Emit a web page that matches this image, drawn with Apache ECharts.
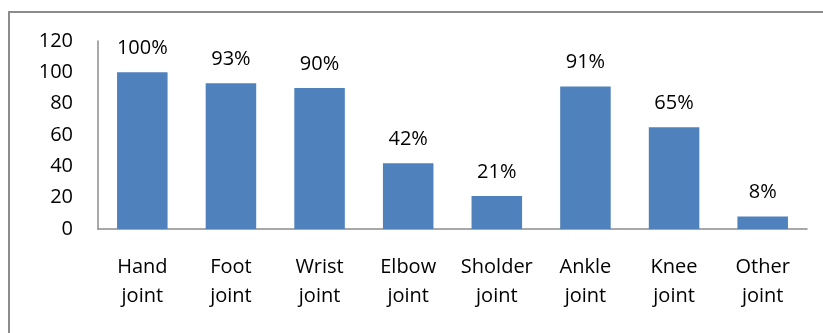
<!DOCTYPE html>
<html>
<head>
<meta charset="utf-8">
<script src="https://cdn.jsdelivr.net/npm/echarts@6/dist/echarts.min.js"></script>
<style>
html,body{margin:0;padding:0;background:#fff;}
#chart{width:823px;height:333px;}
</style>
</head>
<body>
<div id="chart"></div>
<script>
// Joint involvement (%)
const categories = ['Hand\njoint', 'Foot\njoint', 'Wrist\njoint', 'Elbow\njoint', 'Sholder\njoint', 'Ankle\njoint', 'Knee\njoint', 'Other\njoint'];
const values = [100, 93, 90, 42, 21, 91, 65, 8];
const yTicks = { min: 0, max: 120, interval: 20 };

const FONT = '"Open Sans", "Liberation Sans", Arial, sans-serif';
const chart = echarts.init(document.getElementById('chart'));
chart.setOption({
  animation: false,
  backgroundColor: '#fff',
  textStyle: { fontFamily: FONT },
  graphic: [{
    type: 'rect',
    shape: { x: 9, y: 12, width: 840, height: 340 },
    style: { fill: 'none', stroke: '#8c8c8c', lineWidth: 2 },
    silent: true
  }],
  grid: { left: 98, right: 16, top: 41, bottom: 104, containLabel: false },
  xAxis: {
    type: 'category',
    data: categories,
    axisLine: { lineStyle: { color: '#8c8c8c', width: 1.5 } },
    axisTick: { show: false },
    axisLabel: { color: '#000', fontSize: 20, fontFamily: FONT, lineHeight: 29, margin: 24, interval: 0 }
  },
  yAxis: {
    type: 'value',
    min: yTicks.min, max: yTicks.max, interval: yTicks.interval,
    axisLine: { show: true, lineStyle: { color: '#8c8c8c', width: 1.5 } },
    axisTick: { show: false },
    splitLine: { show: false },
    axisLabel: { color: '#000', fontSize: 20, fontFamily: FONT, margin: 25 }
  },
  series: [{
    type: 'bar',
    data: values,
    barWidth: '57%',
    itemStyle: { color: '#4F81BD' },
    label: {
      show: true, position: 'top', distance: 14,
      formatter: '{c}%', color: '#000', fontSize: 20, fontFamily: FONT
    }
  }]
});
</script>
</body>
</html>
